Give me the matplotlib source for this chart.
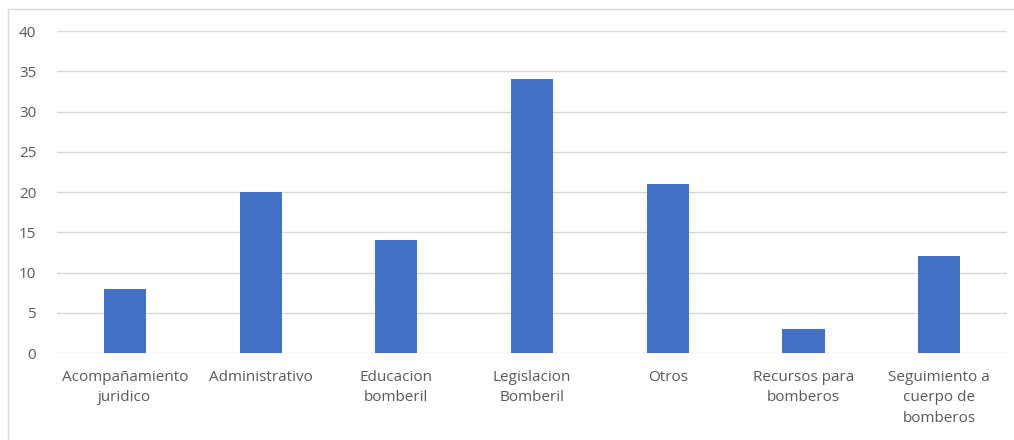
import matplotlib.pyplot as plt
from matplotlib.lines import Line2D

categorias = ['Acompañamiento\njuridico', 'Administrativo', 'Educacion\nbomberil',
              'Legislacion\nBomberil', 'Otros', 'Recursos para\nbomberos',
              'Seguimiento a\ncuerpo de\nbomberos']
valores = [8, 20, 14, 34, 21, 3, 12]
ticks_y = [0, 5, 10, 15, 20, 25, 30, 35, 40]

plt.rcParams['font.family'] = ['Open Sans', 'DejaVu Sans']
gris_texto = '#595959'

fig = plt.figure(figsize=(10.14, 4.4), dpi=100)
ax = fig.add_axes([0.0562, 0.1977, 0.9370, 0.7318])

x = range(len(categorias))
ax.bar(x, valores, width=0.31, color='#4472C4', zorder=3)

ax.set_xlim(-0.5, len(categorias) - 0.5)
ax.set_ylim(0, 40)
ax.set_yticks(ticks_y)
ax.set_xticks(list(x))
ax.set_xticklabels(categorias, linespacing=1.5, va='top')
ax.tick_params(axis='both', length=0, labelsize=11, colors=gris_texto)
ax.tick_params(axis='y', pad=15)
ax.tick_params(axis='x', pad=12)
ax.grid(axis='y', color='#d9d9d9', linewidth=1, zorder=0)
for s in ax.spines.values():
    s.set_visible(False)

# marco del area del grafico
fig.add_artist(Line2D([8 / 1014, 1], [1 - 9 / 440, 1 - 9 / 440],
                      transform=fig.transFigure, color='#d9d9d9', lw=1))
fig.add_artist(Line2D([8 / 1014, 8 / 1014], [0, 1 - 9 / 440],
                      transform=fig.transFigure, color='#d9d9d9', lw=1))

fig.savefig('out.png', dpi=100)
